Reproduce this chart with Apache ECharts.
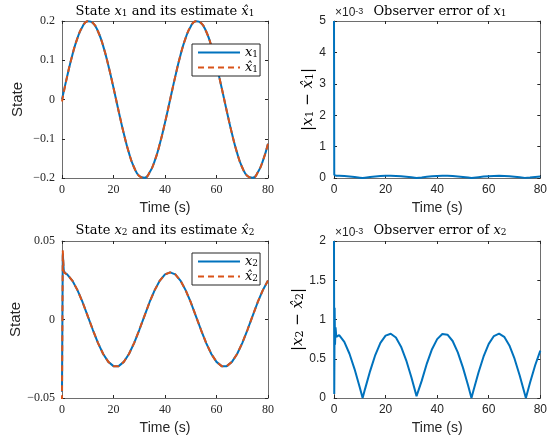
<!DOCTYPE html>
<html>
<head>
<meta charset="utf-8">
<script src="https://cdn.jsdelivr.net/npm/echarts@6.0.0/dist/echarts.min.js"></script>
<style>
html, body { margin: 0; padding: 0; background: #fff; }
#main { width: 550px; height: 441px; }
</style>
</head>
<body>
<div id="main"></div>
<script>
// time grid for the states (s)
var timeGrid = [0, 2, 4, 6, 8, 10, 12, 14, 16, 18, 20, 22, 24, 26, 28, 30, 32, 34, 36, 38, 40,
  42, 44, 46, 48, 50, 52, 54, 56, 58, 60, 62, 64, 66, 68, 70, 72, 74, 76, 78, 80];

// state x1 and its estimate
var x1 = [0, 0.0589, 0.1127, 0.1564, 0.1862, 0.1994, 0.1950, 0.1732, 0.1360, 0.0868, 0.0298,
  -0.0298, -0.0868, -0.1360, -0.1732, -0.1950, -0.1994, -0.1862, -0.1564, -0.1127, -0.0589,
  0, 0.0589, 0.1127, 0.1564, 0.1862, 0.1994, 0.1950, 0.1732, 0.1360, 0.0868, 0.0298,
  -0.0298, -0.0868, -0.1360, -0.1732, -0.1950, -0.1994, -0.1862, -0.1564, -0.1127];
var x1Hat = [-0.005, 0.0589, 0.1127, 0.1564, 0.1862, 0.1994, 0.1950, 0.1732, 0.1360, 0.0868, 0.0298,
  -0.0298, -0.0868, -0.1360, -0.1732, -0.1950, -0.1994, -0.1862, -0.1564, -0.1127, -0.0589,
  0, 0.0589, 0.1127, 0.1564, 0.1862, 0.1994, 0.1950, 0.1732, 0.1360, 0.0868, 0.0298,
  -0.0298, -0.0868, -0.1360, -0.1732, -0.1950, -0.1994, -0.1862, -0.1564, -0.1127];

// state x2 and its estimate (dense start for the initial transient)
var x2Time = [0, 0.3, 0.7, 1.2, 2, 4, 6, 8, 10, 12, 14, 16, 18, 20, 22, 24, 26, 28, 30, 32, 34, 36, 38, 40,
  42, 44, 46, 48, 50, 52, 54, 56, 58, 60, 62, 64, 66, 68, 70, 72, 74, 76, 78, 80];
var x2 = [-0.046, 0.042, 0.031, 0.0296,
  0.0287, 0.0248, 0.0187, 0.0110, 0.0022, -0.0067, -0.0150, -0.0220, -0.0270, -0.0297,
  -0.0297, -0.0270, -0.0220, -0.0150, -0.0067, 0.0022, 0.0110, 0.0187, 0.0248, 0.0287,
  0.0300, 0.0287, 0.0248, 0.0187, 0.0110, 0.0022, -0.0067, -0.0150, -0.0220, -0.0270,
  -0.0297, -0.0297, -0.0270, -0.0220, -0.0150, -0.0067, 0.0022, 0.0110, 0.0187, 0.0248];
var x2Hat = [-0.052, 0.044, 0.030, 0.0294,
  0.0287, 0.0248, 0.0187, 0.0110, 0.0022, -0.0067, -0.0150, -0.0220, -0.0270, -0.0297,
  -0.0297, -0.0270, -0.0220, -0.0150, -0.0067, 0.0022, 0.0110, 0.0187, 0.0248, 0.0287,
  0.0300, 0.0287, 0.0248, 0.0187, 0.0110, 0.0022, -0.0067, -0.0150, -0.0220, -0.0270,
  -0.0297, -0.0297, -0.0270, -0.0220, -0.0150, -0.0067, 0.0022, 0.0110, 0.0187, 0.0248];

// observer errors, in units of 1e-3
var errTime = [0, 0.1, 0.25, 0.4, 0.6, 0.9, 2, 4, 6, 8, 10, 11.1, 12, 14, 16, 18, 20, 22, 24, 26, 28, 30,
  32, 32.2, 34, 36, 38, 40, 42, 44, 46, 48, 50, 52, 53.3, 54, 56, 58, 60, 62, 64, 66, 68, 70, 72, 74,
  74.4, 76, 78, 80];
var err1 = [5.0, 0.1, 0.08, 0.075, 0.072, 0.07, 0.068, 0.061, 0.048, 0.031, 0.011, 0, 0.009, 0.029,
  0.046, 0.060, 0.068, 0.070, 0.065, 0.056, 0.041, 0.022, 0.002, 0, 0.019, 0.037, 0.053, 0.064,
  0.069, 0.069, 0.062, 0.049, 0.033, 0.013, 0, 0.007, 0.027, 0.045, 0.059, 0.067, 0.070, 0.066,
  0.057, 0.043, 0.024, 0.004, 0, 0.016, 0.035, 0.051];
var err2 = [2.0, 0.05, 1.15, 0.68, 0.9, 0.78, 0.801, 0.714, 0.564, 0.365, 0.134, 0, 0.110, 0.343,
  0.547, 0.703, 0.795, 0.818, 0.770, 0.654, 0.480, 0.264, 0.024, 0, 0.218, 0.439, 0.622, 0.750,
  0.815, 0.806, 0.726, 0.582, 0.387, 0.158, 0, 0.085, 0.321, 0.529, 0.690, 0.789, 0.820, 0.779,
  0.669, 0.501, 0.287, 0.049, 0, 0.194, 0.417, 0.603];

// axis ticks
var timeTicks = {min: 0, max: 80, interval: 20};
var stateTicks1 = {min: -0.2, max: 0.2, interval: 0.1};
var stateTicks2 = {min: -0.05, max: 0.05, interval: 0.05};
var errTicks1 = {min: 0, max: 5, interval: 1};
var errTicks2 = {min: 0, max: 2, interval: 0.5};

var BLUE = '#0072BD';
var ORANGE = '#D95319';
var INK = '#262626';
var BOX = '#6e6e6e';
var SERIF = 'DejaVu Serif';
var TICK_SERIF = 'Liberation Serif';
var SANS = 'Liberation Sans';

var mathRich = function(size) {
  return {
    i: {fontFamily: SERIF, fontStyle: 'italic', fontSize: size, color: '#000'},
    s: {fontFamily: SERIF, fontSize: Math.round(size * 0.7), verticalAlign: 'bottom', color: '#000'},
    r: {fontFamily: SERIF, fontSize: size, color: '#000'}
  };
};

function pairs(t, v) {
  return t.map(function(ti, k) { return [ti, v[k]]; });
}

function tickLabel(v) {
  return v < 0 ? '\u2212' + (-v) : String(v);
}

function makeAxes(grid, ticks, isX, labelFont, labelMargin) {
  var main = {
    gridIndex: grid, type: 'value', min: ticks.min, max: ticks.max, interval: ticks.interval,
    position: isX ? 'bottom' : 'left',
    splitLine: {show: false},
    axisLine: {show: true, onZero: false, lineStyle: {color: BOX, width: 1}},
    axisTick: {show: true, inside: true, length: 3, lineStyle: {color: INK}},
    axisLabel: {show: true, color: INK, fontFamily: labelFont, fontSize: 12, margin: labelMargin,
      formatter: tickLabel}
  };
  var mirror = {
    gridIndex: grid, type: 'value', min: ticks.min, max: ticks.max, interval: ticks.interval,
    position: isX ? 'top' : 'right',
    splitLine: {show: false},
    axisLine: {show: true, onZero: false, lineStyle: {color: BOX, width: 1}},
    axisTick: {show: true, inside: true, length: 3, lineStyle: {color: INK}},
    axisLabel: {show: false}
  };
  return [main, mirror];
}

var grids = [
  {left: 62, top: 21, width: 206, height: 157},
  {left: 334, top: 21, width: 207, height: 157},
  {left: 62, top: 241, width: 206, height: 157},
  {left: 334, top: 241, width: 207, height: 157}
];

var xAxes = [];
var yAxes = [];
[0, 1, 2, 3].forEach(function(g) {
  var font = (g % 2 === 0) ? TICK_SERIF : SANS;
  var xs = makeAxes(g, timeTicks, true, font, 6);
  xs[0].name = 'Time (s)';
  xs[0].nameLocation = 'middle';
  xs[0].nameGap = 23;
  xs[0].nameTextStyle = {fontFamily: SANS, fontSize: 14, color: INK};
  xAxes.push(xs[0], xs[1]);
});

var ys0 = makeAxes(0, stateTicks1, false, TICK_SERIF, 7);
ys0[0].name = 'State';
ys0[0].nameLocation = 'middle';
ys0[0].nameGap = 37;
ys0[0].nameTextStyle = {fontFamily: SANS, fontSize: 15, color: INK};

var ys1 = makeAxes(1, errTicks1, false, SANS, 8);
ys1[0].name = '{r||}{i|x}{s|1}{r| \u2212 }{i|x\u0302}{s|1}{r||}';
ys1[0].nameLocation = 'middle';
ys1[0].nameGap = 17;
ys1[0].nameTextStyle = {rich: mathRich(15)};

var ys2 = makeAxes(2, stateTicks2, false, TICK_SERIF, 7);
ys2[0].name = 'State';
ys2[0].nameLocation = 'middle';
ys2[0].nameGap = 37;
ys2[0].nameTextStyle = {fontFamily: SANS, fontSize: 15, color: INK};

var ys3 = makeAxes(3, errTicks2, false, SANS, 8);
ys3[0].name = '{r||}{i|x}{s|2}{r| \u2212 }{i|x\u0302}{s|2}{r||}';
ys3[0].nameLocation = 'middle';
ys3[0].nameGap = 28;
ys3[0].nameTextStyle = {rich: mathRich(15)};

yAxes = ys0.concat(ys1, ys2, ys3);

function lineSeries(name, grid, data, color, dashed, smooth) {
  return {
    name: name, type: 'line', xAxisIndex: grid * 2, yAxisIndex: grid * 2,
    data: data, symbol: 'none', showSymbol: false, smooth: smooth, animation: false,
    itemStyle: {color: color},
    lineStyle: {color: color, width: 2, type: dashed ? [6, 4] : 'solid'}
  };
}

var legendNames = {
  x1: '{i|x}{s|1}', x1hat: '{i|x\u0302}{s|1}',
  x2: '{i|x}{s|2}', x2hat: '{i|x\u0302}{s|2}'
};

function legendBox(names, top) {
  return {
    data: names, orient: 'vertical', left: 192, top: top,
    itemWidth: 42, itemHeight: 14, itemGap: 2,
    padding: [2, 2, 2, 5],
    borderColor: INK, borderWidth: 1, backgroundColor: '#fff',
    selectedMode: false,
    // hide the marker that is drawn on the line sample
    itemStyle: {opacity: 0, borderWidth: 0},
    formatter: function(n) { return legendNames[n]; },
    textStyle: {rich: mathRich(13), padding: [0, 0, 0, 0]}
  };
}

function panelTitle(x, y, text) {
  return {
    type: 'text', x: x, y: y, z: 100,
    style: {
      text: text, align: 'center', verticalAlign: 'middle',
      fontFamily: SERIF, fontSize: 13, fill: '#000',
      rich: mathRich(13)
    }
  };
}

function scaleNote(x, y) {
  return {
    type: 'text', x: x, y: y, z: 100,
    style: {
      text: '\u00d710{sup|-3}', align: 'left', verticalAlign: 'middle',
      fontFamily: SANS, fontSize: 12, fill: INK,
      rich: {sup: {fontFamily: SANS, fontSize: 9, verticalAlign: 'top', color: INK}}
    }
  };
}

var chart = echarts.init(document.getElementById('main'));
chart.setOption({
  backgroundColor: '#fff',
  animation: false,
  grid: grids,
  xAxis: xAxes,
  yAxis: yAxes,
  legend: [legendBox(['x1', 'x1hat'], 44), legendBox(['x2', 'x2hat'], 253)],
  graphic: [
    panelTitle(165, 12, 'State {i|x}{s|1} and its estimate {i|x\u0302}{s|1}'),
    panelTitle(440, 12, 'Observer error of {i|x}{s|1}'),
    panelTitle(165, 231, 'State {i|x}{s|2} and its estimate {i|x\u0302}{s|2}'),
    panelTitle(440, 231, 'Observer error of {i|x}{s|2}'),
    scaleNote(335, 13),
    scaleNote(335, 233)
  ],
  series: [
    lineSeries('x1', 0, pairs(timeGrid, x1), BLUE, false, true),
    lineSeries('x1hat', 0, pairs(timeGrid, x1Hat), ORANGE, true, true),
    lineSeries('err1', 1, pairs(errTime, err1), BLUE, false, false),
    lineSeries('x2', 2, pairs(x2Time, x2), BLUE, false, false),
    lineSeries('x2hat', 2, pairs(x2Time, x2Hat), ORANGE, true, false),
    lineSeries('err2', 3, pairs(errTime, err2), BLUE, false, false)
  ]
});
</script>
</body>
</html>
